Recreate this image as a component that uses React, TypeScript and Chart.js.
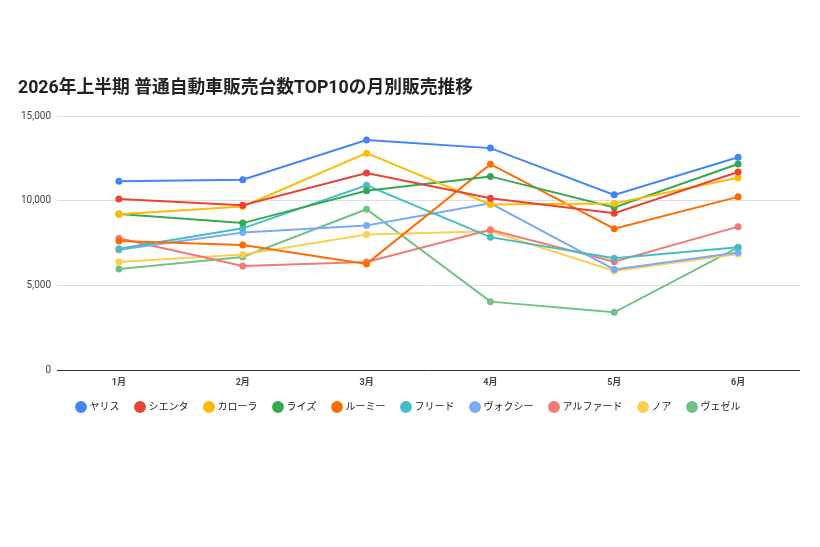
import React, { useEffect, useRef } from 'react';
import Chart from 'chart.js/auto';

const months = ['1月', '2月', '3月', '4月', '5月', '6月'];
const yTicks = [0, 5000, 10000, 15000];

const yaris = [11170, 11250, 13600, 13120, 10360, 12580];
const sienta = [10120, 9740, 11650, 10160, 9270, 11710];
const corolla = [9210, 9670, 12820, 9790, 9850, 11370];
const raize = [9230, 8690, 10600, 11450, 9610, 12180];
const roomy = [7640, 7400, 6280, 12170, 8360, 10240];
const freed = [7180, 8380, 10920, 7860, 6610, 7260];
const voxy = [7110, 8140, 8550, 9860, 5950, 6960];
const alphard = [7800, 6160, 6390, 8300, 6410, 8480];
const noah = [6390, 6830, 8020, 8210, 5860, 6870];
const vezel = [5980, 6690, 9510, 4050, 3420, 7260];

const seriesNames = ['ヤリス', 'シエンタ', 'カローラ', 'ライズ', 'ルーミー', 'フリード', 'ヴォクシー', 'アルファード', 'ノア', 'ヴェゼル'];
const seriesValues = [yaris, sienta, corolla, raize, roomy, freed, voxy, alphard, noah, vezel];
const seriesColors = ['#4285F4', '#EA4335', '#FBBC04', '#34A853', '#FF6D01', '#46BDC6', '#7BAAF7', '#F07B72', '#FCD04F', '#71C287'];

const FONT = 'Roboto, "Noto Sans CJK JP", sans-serif';

// pulls the legend a little closer to the x axis labels
const legendNudge = {
  id: 'legendNudge',
  afterLayout(chart: any) {
    const lg = chart.legend;
    if (lg) {
      lg.top -= 10;
      lg.bottom -= 10;
    }
  },
};

const SalesChart: React.FC = () => {
  const chartRef = useRef<HTMLCanvasElement | null>(null);

  useEffect(() => {
    document.body.style.margin = '0';
    if (!chartRef.current) return;
    const ctx = chartRef.current.getContext('2d');

    const chart = new Chart(ctx!, {
      type: 'line',
      data: {
        labels: months,
        datasets: seriesNames.map((name, i) => ({
          label: name,
          data: seriesValues[i],
          borderColor: seriesColors[i],
          backgroundColor: seriesColors[i],
          pointBackgroundColor: seriesColors[i],
          pointBorderColor: seriesColors[i],
          borderWidth: 2,
          pointRadius: 2.5,
          tension: 0,
        })),
      },
      options: {
        animation: false,
        responsive: false,
        maintainAspectRatio: false,
        layout: {
          padding: { top: 69, left: 18, right: 20, bottom: 115 },
        },
        plugins: {
          title: {
            display: true,
            text: '2026年上半期 普通自動車販売台数TOP10の月別販売推移',
            align: 'start',
            color: '#222',
            font: { family: FONT, size: 17.75, weight: 'bold' },
            padding: { top: 9, bottom: 17 },
          },
          legend: {
            position: 'bottom',
            labels: {
              usePointStyle: true,
              pointStyle: 'circle',
              boxWidth: 7,
              boxHeight: 7,
              padding: 17,
              color: '#222',
              font: { family: FONT, size: 10 },
            },
          },
          tooltip: { enabled: false },
        },
        scales: {
          x: {
            offset: true,
            grid: { display: false, drawTicks: false },
            border: { display: false },
            ticks: {
              color: '#444',
              font: { family: FONT, size: 9, weight: 'bold' },
              padding: 7,
            },
          },
          y: {
            min: 0,
            max: 15000,
            afterFit: (scale: any) => {
              scale.width = 39;
            },
            afterBuildTicks: (scale: any) => {
              scale.ticks = yTicks.map((v) => ({ value: v }));
            },
            border: { display: false },
            grid: {
              color: (c: any) => (c.tick && c.tick.value === 0 ? '#333' : '#ddd'),
              lineWidth: 1,
              drawTicks: false,
            },
            ticks: {
              color: '#444',
              font: { family: FONT, size: 10 },
              padding: 6,
              callback: (v: any) => Number(v).toLocaleString('en-US'),
            },
          },
        },
      },
      plugins: [legendNudge],
    });

    return () => {
      chart.destroy();
    };
  }, []);

  return (
    <div style={{ width: 820, height: 547, background: '#fff' }}>
      <canvas ref={chartRef} width={820} height={547} style={{ width: '820px', height: '547px' }}></canvas>
    </div>
  );
};

export default function App() {
  return <SalesChart />;
}
